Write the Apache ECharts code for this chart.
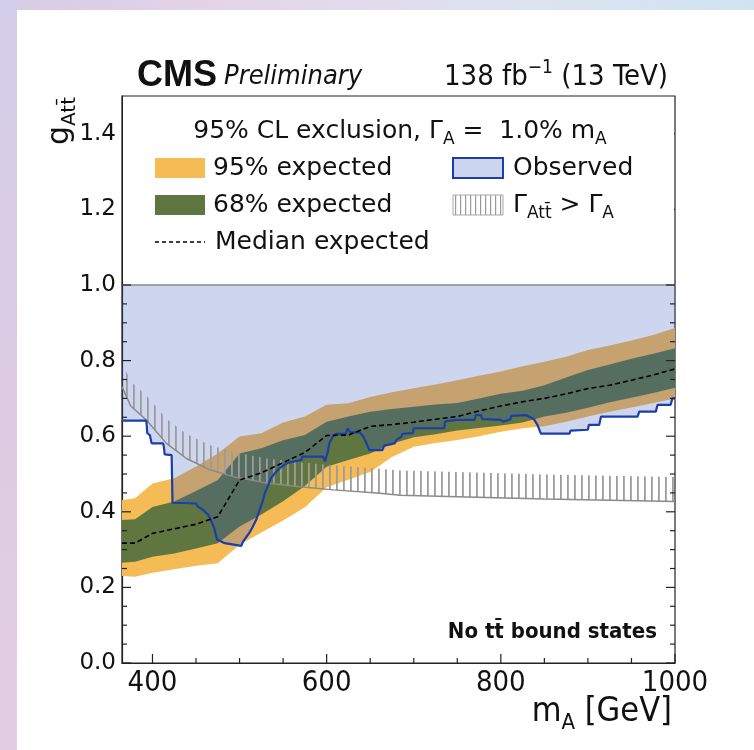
<!DOCTYPE html>
<html>
<head>
<meta charset="utf-8">
<script src="https://cdn.jsdelivr.net/npm/echarts@6/dist/echarts.min.js"></script>
<style>
  html, body { margin: 0; padding: 0; width: 754px; height: 750px; overflow: hidden; }
  body {
    background: linear-gradient(to right, #d6cbe6 0%, #e4d4ea 30%, #dde3f1 70%, #cfe4f3 100%);
  }
  #left-strip {
    position: absolute; left: 0; top: 0; width: 17px; height: 750px;
    background: linear-gradient(to bottom, #d2cde8 0%, #dccbe3 50%, #e3cde2 100%);
  }
  #card { position: absolute; left: 17px; top: 10px; right: 0; bottom: 0; background: #fff; }
  #chart { position: absolute; left: 0; top: 0; width: 754px; height: 750px; }
</style>
</head>
<body>
<div id="left-strip"></div>
<div id="card"></div>
<div id="chart"></div>
<script>
// mass points of the expected limit bands [GeV]
const mass = [365, 380, 400, 425, 450, 475, 500, 525, 550, 575, 600, 625, 650, 675, 700,
              725, 750, 775, 800, 825, 850, 875, 900, 925, 950, 975, 1000];
const exp95Lo = [0.230, 0.228, 0.239, 0.248, 0.257, 0.264, 0.313, 0.345, 0.377, 0.412, 0.465, 0.485, 0.505, 0.545,
                 0.572, 0.582, 0.590, 0.600, 0.612, 0.621, 0.626, 0.638, 0.652, 0.665, 0.676, 0.688, 0.700];
const exp68Lo = [0.265, 0.268, 0.281, 0.290, 0.303, 0.317, 0.361, 0.393, 0.428, 0.468, 0.519, 0.537, 0.554, 0.580,
                 0.597, 0.605, 0.615, 0.622, 0.628, 0.636, 0.652, 0.662, 0.675, 0.690, 0.702, 0.714, 0.728];
const median  = [0.317, 0.317, 0.343, 0.355, 0.367, 0.387, 0.484, 0.503, 0.530, 0.557, 0.602, 0.603, 0.626, 0.631,
                 0.637, 0.645, 0.652, 0.667, 0.680, 0.691, 0.700, 0.712, 0.726, 0.735, 0.748, 0.762, 0.778];
const exp68Hi = [0.378, 0.380, 0.413, 0.427, 0.455, 0.484, 0.554, 0.568, 0.589, 0.603, 0.638, 0.652, 0.665, 0.672,
                 0.678, 0.684, 0.688, 0.700, 0.712, 0.720, 0.735, 0.755, 0.775, 0.790, 0.805, 0.818, 0.833];
const exp95Hi = [0.431, 0.436, 0.475, 0.489, 0.520, 0.554, 0.599, 0.608, 0.636, 0.652, 0.683, 0.687, 0.704, 0.716,
                 0.727, 0.737, 0.748, 0.760, 0.771, 0.785, 0.797, 0.810, 0.828, 0.840, 0.853, 0.868, 0.886];

// observed exclusion contour (step shaped)
const obsMass = [365, 393, 394, 397, 399, 412, 413, 414, 422, 423, 450, 452, 458, 464, 466, 471, 474, 483, 485,
                 502, 504, 508, 512, 515, 519, 523, 527, 529, 533, 536, 542, 548, 556, 571, 572, 596, 598, 600,
                 601, 603, 607, 611, 622, 624, 626, 627, 638, 642, 645, 649, 664, 666, 678, 680, 686, 687, 699,
                 700, 735, 736, 749, 770, 771, 777, 779, 800, 803, 811, 812, 829, 838, 842, 846, 879, 880, 900,
                 901, 913, 915, 957, 959, 978, 980, 995, 997, 1000];
const obsG    = [0.641, 0.641, 0.608, 0.603, 0.581, 0.581, 0.574, 0.552, 0.550, 0.424, 0.422, 0.414, 0.405,
                 0.392, 0.383, 0.356, 0.327, 0.317, 0.312, 0.310, 0.321, 0.334, 0.347, 0.360, 0.378, 0.405,
                 0.431, 0.449, 0.471, 0.489, 0.506, 0.519, 0.530, 0.537, 0.546, 0.546, 0.533, 0.533, 0.555,
                 0.581, 0.599, 0.606, 0.606, 0.621, 0.621, 0.610, 0.610, 0.599, 0.585, 0.563, 0.563, 0.575,
                 0.581, 0.590, 0.599, 0.606, 0.608, 0.621, 0.621, 0.639, 0.643, 0.643, 0.656, 0.656, 0.645,
                 0.643, 0.638, 0.645, 0.654, 0.656, 0.645, 0.630, 0.607, 0.607, 0.615, 0.617, 0.630, 0.630,
                 0.652, 0.652, 0.665, 0.665, 0.683, 0.683, 0.700, 0.700];

// coupling where the A -> tt width equals the assumed width
const widthMass = [365, 375, 393, 416, 439, 466, 493, 531, 569, 608, 661, 684, 750, 850, 1000];
const widthG    = [0.731, 0.680, 0.643, 0.581, 0.541, 0.511, 0.493, 0.476, 0.466, 0.458, 0.449, 0.444, 0.440, 0.434, 0.427];

const scanMax = 1.0;   // upper end of the coupling scan
const xMin = 365, xMax = 1000, yMin = 0, yMax = 1.5;

// tick values
const xMajor = [400, 600, 800, 1000];
const xMinor = [450, 500, 550, 650, 700, 750, 850, 900, 950];
const yMajor = [0, 0.2, 0.4, 0.6, 0.8, 1.0, 1.2, 1.4];
const yMinor = [0.05, 0.1, 0.15, 0.25, 0.3, 0.35, 0.45, 0.5, 0.55, 0.65, 0.7, 0.75, 0.85, 0.9, 0.95];

const ORANGE = '#F5BB54';
const GREEN = '#607641';
const OBS_LINE = '#1b3faa';
const OBS_FILL = 'rgba(55, 88, 190, 0.25)';
const HATCH_H = 0.065;

// hatch pattern (vertical lines)
function hatchPattern(step, color, lw) {
  const c = document.createElement('canvas');
  c.width = step; c.height = 8;
  const ctx = c.getContext('2d');
  ctx.fillStyle = color;
  ctx.fillRect(0, 0, lw, 8);
  return { image: c, repeat: 'repeat' };
}
const hatchPlot = hatchPattern(7, '#9c9c9c', 1.8);
const hatchLegend = hatchPattern(5, '#9a9a9a', 1.2);

// text runs (for sub/superscripts)
const mctx = document.createElement('canvas').getContext('2d');
const SANS = '"DejaVu Sans", sans-serif';
const NARROW = '"Liberation Sans Narrow", "DejaVu Sans Condensed", sans-serif';
function runText(x, yMid, parts, align) {
  const s0 = parts[0].size;
  const base = yMid + 0.35 * s0;
  let total = 0;
  const items = parts.map(p => {
    const font = (p.style || 'normal') + ' ' + (p.weight || 'normal') + ' ' + p.size + 'px ' + (p.family || SANS);
    mctx.font = font;
    const w = mctx.measureText(p.text).width;
    total += w;
    return { p, font, w };
  });
  let cx = align === 'right' ? x - total : align === 'center' ? x - total / 2 : x;
  return items.map(it => {
    const el = {
      type: 'text', x: cx, y: base + (it.p.dy || 0) - 0.35 * it.p.size, z: 60,
      style: { text: it.p.text, font: it.font, fill: it.p.color || '#111', textAlign: 'left', textVerticalAlign: 'middle' }
    };
    cx += it.w;
    return el;
  });
}

// polygon band between two arrays, drawn once through the axes
function bandSeries(name, xs, lo, hi, style, z) {
  return {
    type: 'custom', name: name, z: z, silent: true, clip: true,
    data: xs.map((m, i) => [m, lo[i], hi[i]]),
    encode: { x: 0, y: [1, 2] },
    renderItem: function (params, api) {
      if (params.dataIndex !== 0) return null;
      const top = xs.map((m, i) => api.coord([m, hi[i]]));
      const bot = xs.map((m, i) => api.coord([m, lo[i]])).reverse();
      return { type: 'polygon', shape: { points: top.concat(bot) }, style: style };
    }
  };
}

// inward tick marks at given axis values
function tickSeries(values, side, len) {
  return {
    type: 'custom', name: 'ticks-' + side, z: 8, silent: true, clip: false,
    data: values.map(v => side === 'bottom' ? [v, yMin] : [side === 'left' ? xMin : xMax, v]),
    renderItem: function (params, api) {
      const p = api.coord([api.value(0), api.value(1)]);
      const d = side === 'bottom' ? [0, -len] : side === 'left' ? [len, 0] : [-len, 0];
      return {
        type: 'line',
        shape: { x1: p[0], y1: p[1], x2: p[0] + d[0], y2: p[1] + d[1] },
        style: { stroke: '#222', lineWidth: 1.2 }
      };
    }
  };
}

const chart = echarts.init(document.getElementById('chart'), null, { renderer: 'canvas' });

const axisLineStyle = { color: '#222', width: 1.2 };

const graphics = [
  // legend background hides the ticks in the upper part of the frame
  { type: 'rect', z: 50, shape: { x: 123, y: 97, width: 551, height: 184 }, style: { fill: '#fff' } },
  // legend swatches
  { type: 'rect', z: 60, shape: { x: 155, y: 158, width: 50, height: 20 }, style: { fill: ORANGE } },
  { type: 'rect', z: 60, shape: { x: 155, y: 195, width: 50, height: 20 }, style: { fill: GREEN } },
  { type: 'line', z: 60, shape: { x1: 155, y1: 242, x2: 205, y2: 242 }, style: { stroke: '#000', lineWidth: 1.5, lineDash: [4, 3] } },
  { type: 'rect', z: 60, shape: { x: 453, y: 158, width: 50, height: 20 }, style: { fill: '#ccd5ee', stroke: OBS_LINE, lineWidth: 2 } },
  { type: 'rect', z: 60, shape: { x: 453, y: 195, width: 50, height: 20 }, style: { fill: hatchLegend, stroke: '#a8a8a8', lineWidth: 1 } }
].concat(
  runText(400, 131, [
    { text: '95% CL exclusion, Γ', size: 25 }, { text: 'A', size: 17, dy: 6 },
    { text: ' =  1.0% m', size: 25 }, { text: 'A', size: 17, dy: 6 }], 'center'),
  runText(213, 168, [{ text: '95% expected', size: 25 }]),
  runText(213, 205, [{ text: '68% expected', size: 25 }]),
  runText(215, 242, [{ text: 'Median expected', size: 25 }]),
  runText(513, 168, [{ text: 'Observed', size: 25 }]),
  runText(513, 205, [{ text: 'Γ', size: 25 }, { text: 'Att\u0304', size: 17, dy: 6 },
                     { text: ' > Γ', size: 25 }, { text: 'A', size: 17, dy: 6 }]),
  // header
  runText(137, 76, [{ text: 'CMS', size: 36, weight: 'bold', family: '"Liberation Sans", sans-serif' }]),
  runText(224, 77, [{ text: 'Preliminary', size: 27, style: 'italic', family: NARROW }]),
  runText(668, 77, [{ text: '138 fb', size: 29, family: NARROW }, { text: '\u22121', size: 19, dy: -12, family: NARROW },
                    { text: ' (13 TeV)', size: 29, family: NARROW }], 'right'),
  // annotation
  runText(657, 632, [{ text: 'No tt\u0304 bound states', size: 22, weight: 'bold', family: '"DejaVu Sans Condensed", "DejaVu Sans", sans-serif' }], 'right'),
  // x axis title
  runText(672, 712, [{ text: 'm', size: 34, family: NARROW }, { text: 'A', size: 22, dy: 7, family: NARROW },
                     { text: ' [GeV]', size: 34, family: NARROW }], 'right'),
  // y axis title (rotated)
  [{
    type: 'group', x: 60, y: 97, rotation: Math.PI / 2, z: 60,
    children: runText(0, 0, [{ text: 'g', size: 30 }, { text: 'Att\u0304', size: 20, dy: 6 }], 'right')
  }]
);

const option = {
  animation: false,
  grid: { left: 122, right: 79, top: 96, bottom: 87, show: true, borderColor: '#222', borderWidth: 1.2, backgroundColor: 'transparent' },
  xAxis: {
    type: 'value', min: xMin, max: xMax, position: 'bottom',
    axisLine: { show: true, lineStyle: axisLineStyle },
    axisTick: { show: false },
    axisLabel: { customValues: xMajor, margin: 6, fontFamily: NARROW, fontSize: 29, color: '#111',
                 formatter: v => String(v) },
    splitLine: { show: false }
  },
  yAxis: {
    type: 'value', min: yMin, max: yMax, position: 'left',
    axisLine: { show: true, lineStyle: axisLineStyle },
    axisTick: { show: false },
    axisLabel: { customValues: yMajor, margin: 6, fontFamily: SANS, fontSize: 23, color: '#111',
                 formatter: v => v.toFixed(1) },
    splitLine: { show: false }
  },
  graphic: { elements: graphics },
  series: [
    bandSeries('95% expected', mass, exp95Lo, exp95Hi, { fill: ORANGE }, 1),
    bandSeries('68% expected', mass, exp68Lo, exp68Hi, { fill: GREEN }, 2),
    bandSeries('Observed', obsMass, obsG, obsMass.map(() => scanMax), { fill: OBS_FILL }, 3),
    bandSeries('width', widthMass, widthG, widthG.map(g => g + HATCH_H), { fill: hatchPlot }, 4),
    {
      type: 'line', name: 'width line', z: 5, symbol: 'none', silent: true,
      data: widthMass.map((m, i) => [m, widthG[i]]),
      lineStyle: { color: '#8a8a8a', width: 1.5 }
    },
    {
      type: 'line', name: 'scan limit', z: 5, symbol: 'none', silent: true,
      data: [[xMin, scanMax], [xMax, scanMax]],
      lineStyle: { color: '#8a8a8a', width: 1.5 }
    },
    {
      type: 'line', name: 'Observed line', z: 6, symbol: 'none', silent: true,
      data: obsMass.map((m, i) => [m, obsG[i]]),
      lineStyle: { color: OBS_LINE, width: 2.2 }
    },
    {
      type: 'line', name: 'Median expected', z: 7, symbol: 'none', silent: true,
      data: mass.map((m, i) => [m, median[i]]),
      lineStyle: { color: '#000', width: 1.6, type: [5, 3] }
    },
    tickSeries(xMajor, 'bottom', 9),
    tickSeries(xMinor, 'bottom', 5),
    tickSeries(yMajor, 'left', 9),
    tickSeries(yMinor, 'left', 5),
    tickSeries(yMajor, 'right', 9),
    tickSeries(yMinor, 'right', 5)
  ]
};
chart.setOption(option);
</script>
</body>
</html>
